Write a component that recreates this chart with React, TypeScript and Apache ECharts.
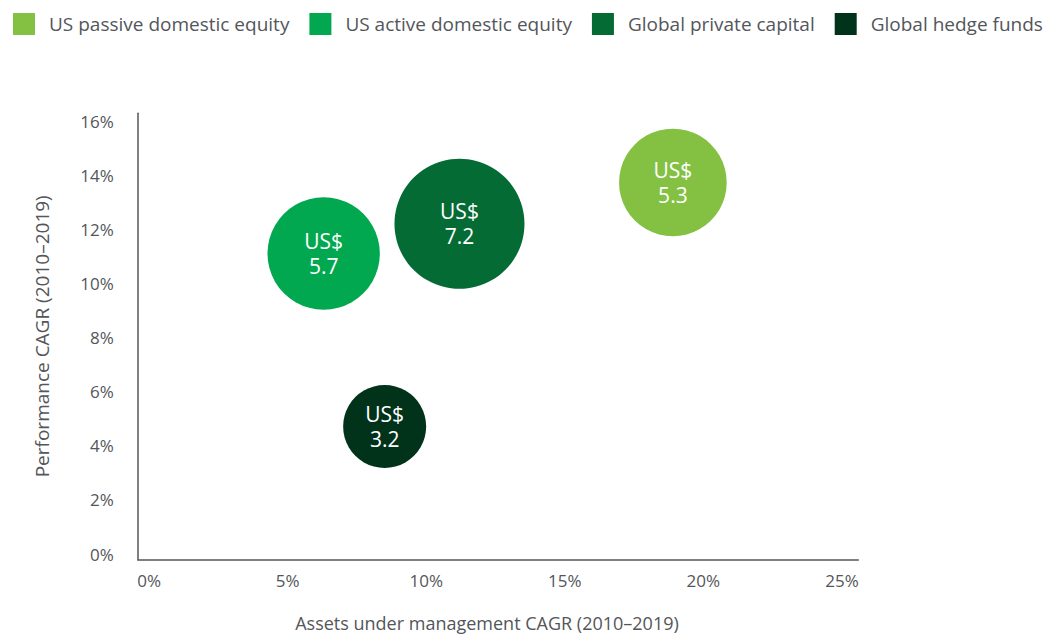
import React, { useEffect, useRef } from "react";
import * as echarts from "echarts";

const seriesNames = [
  "US passive domestic equity",
  "US active domestic equity",
  "Global private capital",
  "Global hedge funds",
];
// AUM CAGR %, Performance CAGR %, AUM US$ trillion
const aumCagr = [18.9, 6.3, 11.2, 8.5];
const perfCagr = [13.75, 11.12, 12.22, 4.72];
const aumValue = [5.3, 5.7, 7.2, 3.2];
const colors = ["#84C143", "#02A84F", "#046B35", "#01321A"];
const xTicks = [0, 5, 10, 15, 20, 25];
const yTicks = [0, 2, 4, 6, 8, 10, 12, 14, 16];

const FONT = "'Open Sans', 'Noto Sans', sans-serif";
const GRAY = "#53565A";

export default function App() {
  const ref = useRef<HTMLDivElement>(null);
  useEffect(() => {
    if (!ref.current) return;
    const chart = echarts.init(ref.current, null, { renderer: "svg" });
    const series = seriesNames.map((name, i) => ({
      name,
      type: "scatter",
      data: [[aumCagr[i], perfCagr[i], aumValue[i]]],
      symbol: "circle",
      symbolSize: (v: number[]) => 45.4 + 11.75 * v[2],
      itemStyle: { color: colors[i], opacity: 1 },
      label: {
        show: true,
        position: "inside",
        formatter: (p: any) => "US$\n" + p.value[2].toFixed(1),
        color: "#ffffff",
        fontFamily: FONT,
        fontSize: 21,
        lineHeight: 25,
      },
      emphasis: { disabled: true },
    }));
    chart.setOption({
      animation: false,
      color: colors,
      legend: {
        left: 13,
        top: 13,
        padding: 0,
        itemWidth: 22,
        itemHeight: 22,
        itemGap: 20,
        icon: "rect",
        data: seriesNames,
        textStyle: {
          fontFamily: FONT,
          fontSize: 19,
          color: GRAY,
          padding: [0, 0, 0, 9],
        },
      },
      grid: {
        left: 137.7,
        right: 201.7,
        top: 113.3,
        bottom: 75.7,
        outerBoundsMode: "none",
        containLabel: false,
      },
      xAxis: {
        type: "value",
        min: -0.41,
        max: 25.59,
        name: "Assets under management CAGR (2010–2019)",
        nameLocation: "middle",
        nameGap: 55,
        nameTextStyle: {
          fontFamily: FONT,
          fontSize: 18,
          color: GRAY,
          padding: [0, 22, 0, 0],
        },
        axisLine: { show: true, onZero: false, lineStyle: { color: GRAY, width: 1.5 } },
        axisTick: { show: false },
        splitLine: { show: false },
        axisLabel: {
          customValues: xTicks,
          formatter: (v: number) => v + "%",
          fontFamily: FONT,
          fontSize: 17,
          color: GRAY,
          margin: 12.2,
        },
      },
      yAxis: {
        type: "value",
        min: -0.196,
        max: 16.31,
        name: "Performance CAGR (2010–2019)",
        nameLocation: "middle",
        nameGap: 86,
        nameTextStyle: { fontFamily: FONT, fontSize: 19, color: GRAY },
        axisLine: { show: true, onZero: false, lineStyle: { color: GRAY, width: 1.5 } },
        axisTick: { show: false },
        splitLine: { show: false },
        axisLabel: {
          customValues: yTicks,
          formatter: (v: number) => v + "%",
          fontFamily: FONT,
          fontSize: 17,
          color: GRAY,
          margin: 24,
        },
      },
      series,
    });
    return () => chart.dispose();
  }, []);
  return (
    <div
      ref={ref}
      style={{ position: "fixed", left: 0, top: 0, width: 1060, height: 635, background: "#fff" }}
    />
  );
}
